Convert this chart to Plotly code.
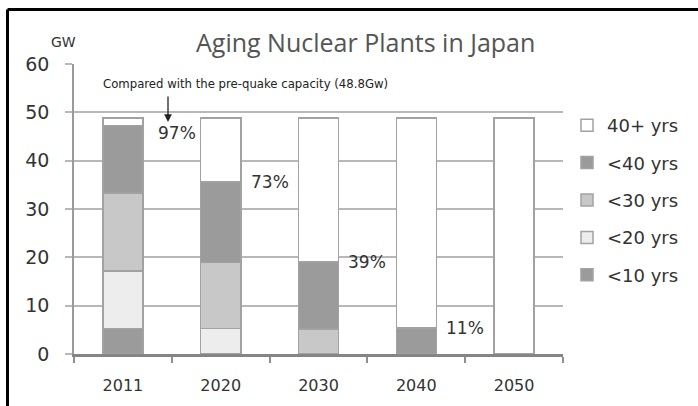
import plotly.graph_objects as go

# Installed nuclear capacity by plant age (GW)
years = ["2011", "2020", "2030", "2040", "2050"]
under_10 = [5.3, None, None, None, None]
under_20 = [11.9, 5.3, None, None, None]
under_30 = [16.1, 13.6, 5.2, None, None]
under_40 = [14.0, 16.7, 13.8, 5.4, None]
over_40 = [1.5, 13.2, 29.8, 43.4, 48.8]

# Share of the pre-quake capacity still under 40 years old
share_pct = [97, 73, 39, 11]
share_value = [47.3, 35.6, 19.0, 5.4]

series = [
    ("<10 yrs", under_10, "#9b9b9b"),
    ("<20 yrs", under_20, "#ededed"),
    ("<30 yrs", under_30, "#c8c8c8"),
    ("<40 yrs", under_40, "#9b9b9b"),
    ("40+ yrs", over_40, "#ffffff"),
]

L, R, T, B = 74, 135, 64, 52
W, H = 698, 406
PW, PH = W - L - R, H - T - B


def px_x(p):
    return (p - L) / PW


def px_y(p):
    return (H - B - p) / PH


fig = go.Figure()
for i, (name, vals, color) in enumerate(series):
    fig.add_trace(go.Bar(
        x=years, y=vals, name=name, legendgroup=name,
        legendrank=len(series) - i,
        marker=dict(color=color, line=dict(color="#a2a2a2", width=1.5)),
        width=0.41, hoverinfo="skip",
    ))

annotations = []
for i, (pct, val) in enumerate(zip(share_pct, share_value)):
    shift_y = -8 if i == 0 else 0
    shift_x = 5 if i == 0 else 0
    annotations.append(dict(
        x=i + 0.5, y=val, xref="x", yref="y", text=f"{pct}%",
        showarrow=False, xanchor="center", yanchor="middle",
        xshift=shift_x, yshift=shift_y,
        font=dict(family="DejaVu Sans", size=17, color="#333333"),
    ))

annotations += [
    dict(x=px_x(245), y=px_y(83), xref="paper", yref="paper",
         text="Compared with the pre-quake capacity (48.8Gw)",
         showarrow=False, xanchor="center", yanchor="middle",
         font=dict(family="DejaVu Sans Condensed", size=13, color="#222222")),
    dict(x=px_x(168), y=px_y(122), xref="paper", yref="paper", text="",
         showarrow=True, arrowhead=2, arrowsize=1.2, arrowwidth=1.3,
         arrowcolor="#222222", ax=0, ay=-27),
    dict(x=px_x(365), y=px_y(42), xref="paper", yref="paper",
         text="Aging Nuclear Plants in Japan", showarrow=False,
         xanchor="center", yanchor="middle",
         font=dict(family="Open Sans", size=25, color="#555555")),
    dict(x=px_x(63), y=px_y(42), xref="paper", yref="paper", text="GW",
         showarrow=False, xanchor="center", yanchor="middle",
         font=dict(family="DejaVu Sans", size=14, color="#333333")),
]

shapes = [
    dict(type="line", xref="paper", yref="paper",
         x0=px_x(7.5), x1=px_x(7.5), y0=px_y(9.5), y1=px_y(H + 5),
         line=dict(color="#000000", width=3)),
    dict(type="line", xref="paper", yref="paper",
         x0=px_x(7.5), x1=px_x(W + 5), y0=px_y(9.5), y1=px_y(9.5),
         line=dict(color="#000000", width=3)),
]

fig.update_layout(
    width=W, height=H,
    margin=dict(l=L, r=R, t=T, b=B),
    barmode="stack",
    paper_bgcolor="#ffffff", plot_bgcolor="#ffffff",
    showlegend=True,
    legend=dict(
        x=px_x(567), y=px_y(107), xanchor="left", yanchor="top",
        traceorder="grouped", tracegroupgap=11,
        font=dict(family="DejaVu Sans", size=18, color="#333333"),
        bgcolor="rgba(0,0,0,0)",
    ),
    annotations=annotations,
    shapes=shapes,
    xaxis=dict(
        type="category", showgrid=False, tickson="boundaries",
        ticks="outside", ticklen=6, tickcolor="#8f8f8f", tickwidth=1.5,
        showline=True, linecolor="#858585", linewidth=2.5,
        tickfont=dict(family="DejaVu Sans", size=16, color="#333333"),
        ticklabelstandoff=15,
        fixedrange=True,
    ),
    yaxis=dict(
        range=[0, 60], dtick=10, showgrid=True, gridcolor="#b8b8b8",
        gridwidth=1.5, zeroline=False,
        ticks="outside", ticklen=7, tickcolor="#b8b8b8", tickwidth=1.5,
        showline=True, linecolor="#9a9a9a", linewidth=1.5,
        tickfont=dict(family="DejaVu Sans", size=19, color="#333333"),
        ticklabelstandoff=12,
        fixedrange=True,
    ),
    bargap=0.59,
)

fig.write_html("out.html")
